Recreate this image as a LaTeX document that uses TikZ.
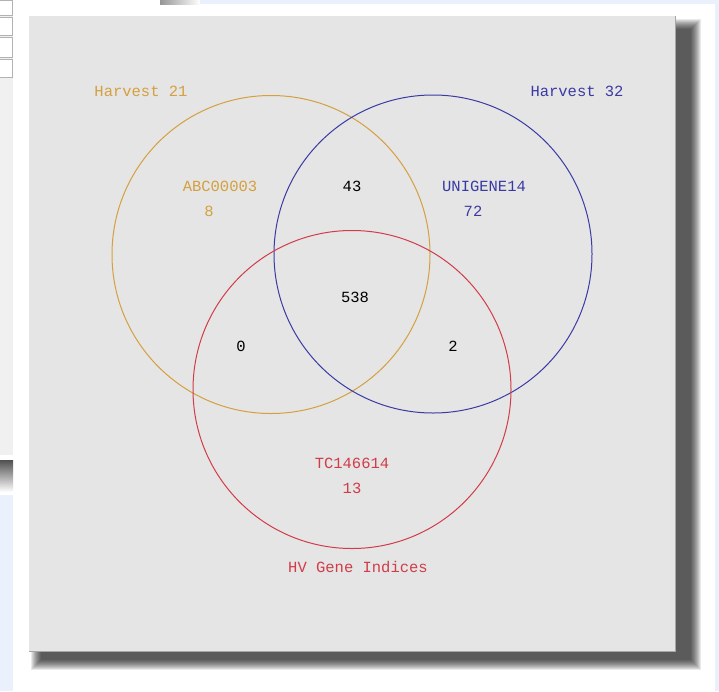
\documentclass[tikz,border=0pt]{standalone}
\usepackage{fontspec}
\setmonofont{Liberation Mono}
\begin{document}
\begin{tikzpicture}[x=1pt,y=-1pt,
  lbl/.style={font=\ttfamily\fontsize{15.5}{16}\selectfont, inner sep=0pt, anchor=center},
  venn/.style={circle, draw, line width=1pt, minimum size=318pt, inner sep=0pt}]
\definecolor{hOrange}{RGB}{212,160,64}
\definecolor{hBlue}{RGB}{58,58,165}
\definecolor{hRed}{RGB}{210,60,72}
\definecolor{panel}{RGB}{229,229,229}
\definecolor{paleblue}{RGB}{234,240,252}
\definecolor{shade}{RGB}{80,80,80}
\useasboundingbox (0,0) rectangle (719,691);
\fill[white] (0,0) rectangle (719,691);
% surrounding UI fragments
\fill[paleblue] (200,0) rectangle (719,4);
\fill[paleblue] (715,0) rectangle (719,691);
\shade[left color=shade!60, right color=white] (160,0) rectangle (200,4);
\fill[gray!12] (0,0) rectangle (13,455);
\foreach \ya/\yb in {0/15,17/35,37/57,59/77}
  \draw[gray!60, fill=white] (-2,\ya) rectangle (12,\yb);
\fill[white] (0,455) rectangle (13,460);
\shade[top color=shade, bottom color=white] (0,460) rectangle (13,492);
\fill[paleblue] (0,495) rectangle (13,691);
% soft shadow of panel
\foreach \k in {0,...,10}
  \fill[black, opacity=0.085] (31+\k,19+\k) rectangle (701-\k,670-\k);
% panel
\fill[panel] (29,16) rectangle (675,651);
\draw[gray!70, line width=0.6pt] (675,16) -- (675,651) -- (29,651);
% circles
\node[venn, draw=hOrange] (c1) at (271,254.5) {};
\node[venn, draw=hBlue] (c2) at (433,254) {};
\node[venn, draw=hRed] (c3) at (352,389.5) {};
% labels
\node[lbl, text=hOrange] (t1) at (141,91) {Harvest 21};
\node[lbl, text=hBlue] (t2) at (577,91) {Harvest 32};
\node[lbl, text=hRed] (t3) at (358,567) {HV Gene Indices};
\node[lbl, text=hOrange] (a1) at (220,186) {ABC00003};
\node[lbl, text=hOrange] (a2) at (209,211) {8};
\node[lbl, text=hBlue] (b1) at (484,186) {UNIGENE14};
\node[lbl, text=hBlue] (b2) at (473,211) {72};
\node[lbl, text=hRed] (r1) at (352,463) {TC146614};
\node[lbl, text=hRed] (r2) at (352,488) {13};
\node[lbl] (n43) at (352,186) {43};
\node[lbl] (n538) at (355,297) {538};
\node[lbl] (n0) at (241,346) {0};
\node[lbl] (n2) at (453,346) {2};
\end{tikzpicture}
\end{document}
